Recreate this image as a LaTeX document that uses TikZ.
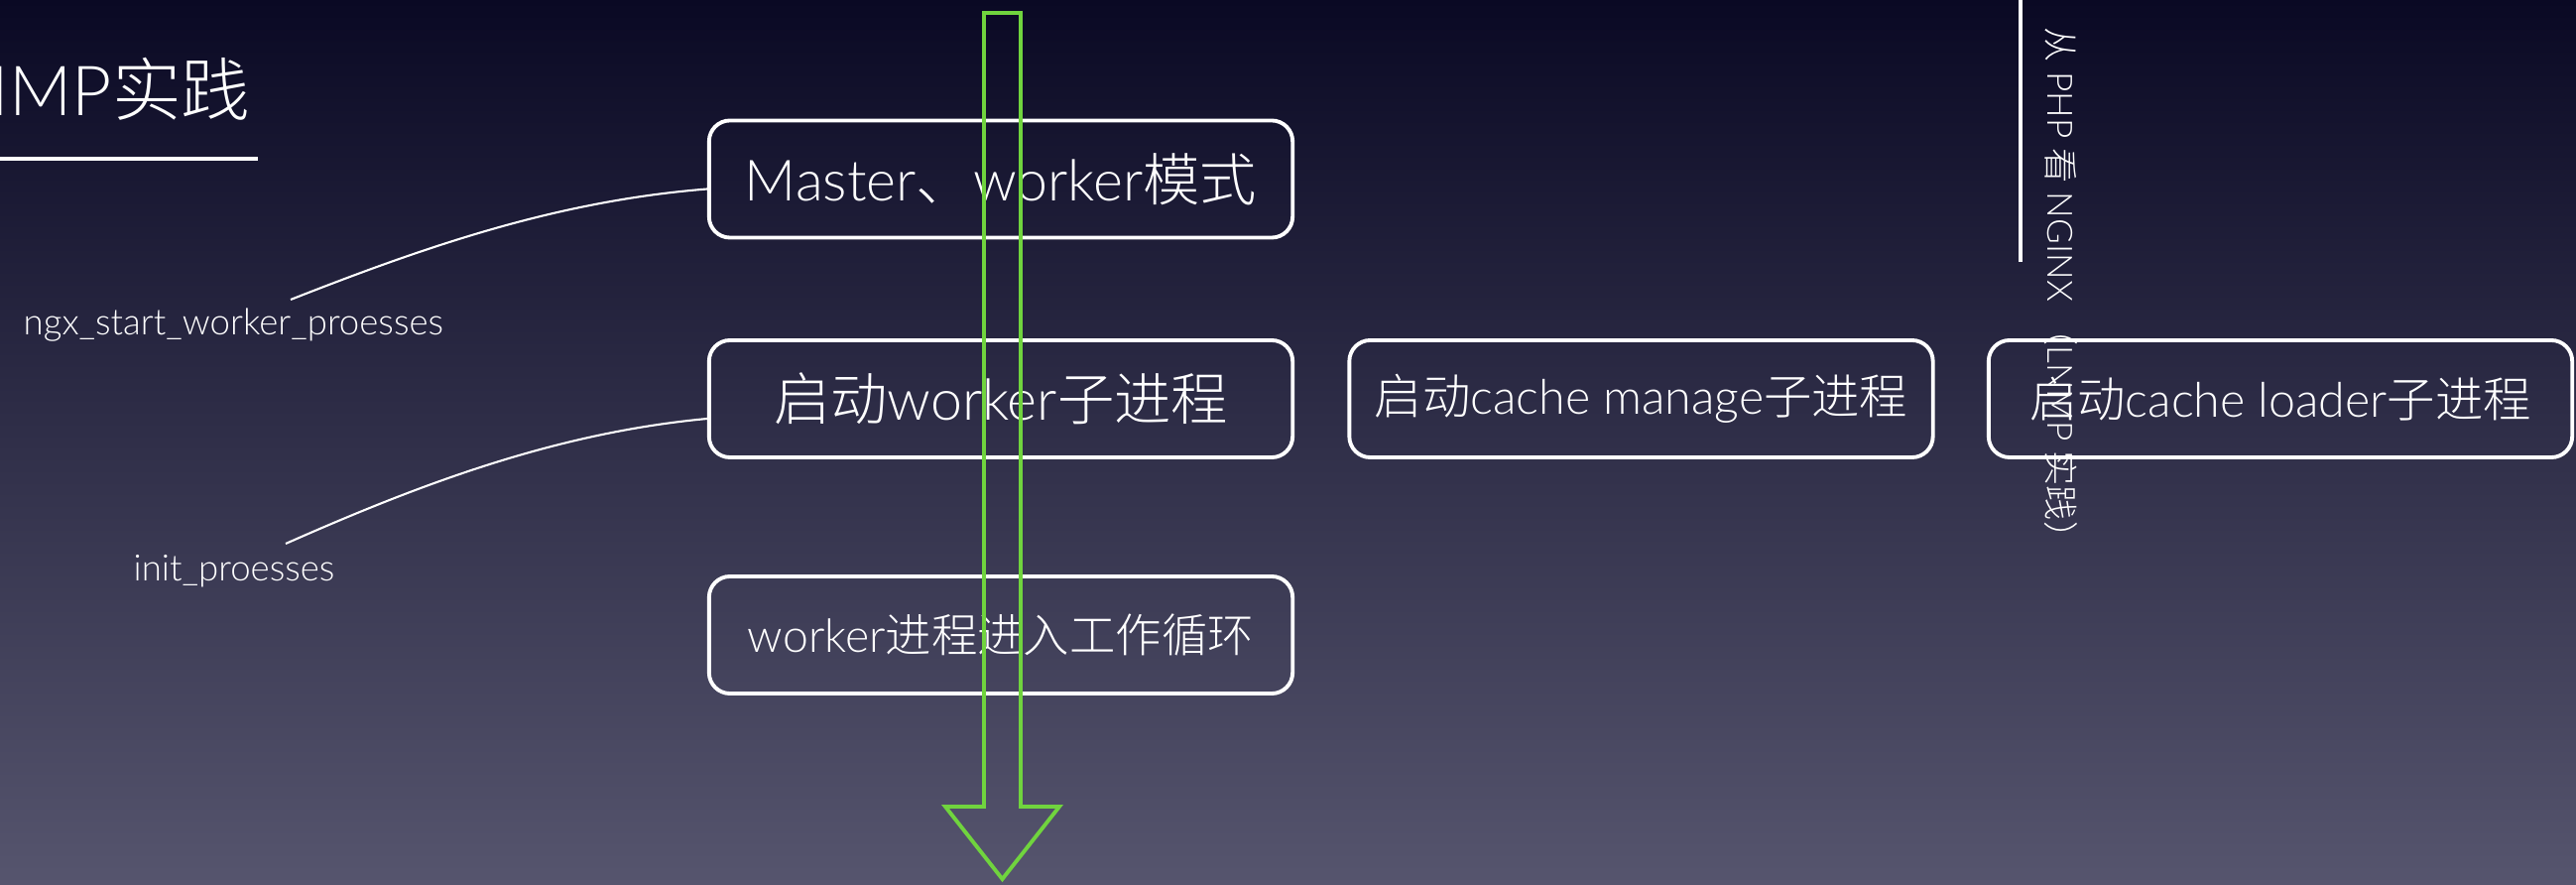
\documentclass[tikz,border=0pt]{standalone}
\usepackage{fontspec}
\setmainfont{Lato Light}
\newfontfamily\cjk{Noto Sans CJK SC Light}
\definecolor{bgtop}{RGB}{10,9,36}
\definecolor{bgbot}{RGB}{86,85,110}
\definecolor{flowgreen}{RGB}{112,212,62}
\tikzset{
  stepbox/.style={draw=white, line width=1.1pt, rounded corners=6pt,
    minimum width=5.88cm, minimum height=1.18cm, inner sep=0pt, text=white},
  bigtext/.style={font=\fontsize{16.3}{18}\selectfont},
  midtext/.style={font=\fontsize{13.2}{15}\selectfont},
  fnlabel/.style={text=white, inner sep=0pt, anchor=base west, font=\fontsize{10.4}{12}\selectfont},
  callout/.style={draw=white, line width=0.6pt},
}
\begin{document}
\begin{tikzpicture}[x=0.01cm,y=-0.01cm]
	\useasboundingbox (0,0) rectangle (2597,892);
	\clip (0,0) rectangle (2597,892);
	\shade[top color=bgtop, bottom color=bgbot] (0,0) rectangle (2597,892);

	% title and side bar
	\node	(title) at (253,117) [anchor=base east, inner sep=0pt, text=white, font=\fontsize{19.8}{21}\selectfont] {LNMP{\cjk 实践}};
	\draw[white, line width=1.4pt] (0,160) -- (260,160);
	\draw[white, line width=1pt] (2037,0) -- (2037,264);
	\node	(side) at (2078,294) [rotate=-90, text=white, inner sep=0pt, font=\fontsize{10}{11}\selectfont] {{\cjk 从} PHP {\cjk 看} NGINX {\cjk （}LNMP {\cjk 实践）}};

	% process boxes
	\node	(master) at (1009,180.5) [stepbox, bigtext] {Master{\cjk 、}worker{\cjk 模式}};
	\node	(spawn) at (1009,402) [stepbox, bigtext] {{\cjk 启动}worker{\cjk 子进程}};
	\node	(loop) at (1009,640) [stepbox, midtext] {worker{\cjk 进程进入工作循环}};
	\node	(cachemgr) at (1654.5,402) [stepbox, font=\fontsize{13.75}{15}\selectfont] {{\cjk 启动}cache manage{\cjk 子进程}};
	\node	(cacheldr) at (2299,402) [stepbox, font=\fontsize{13.75}{15}\selectfont] {{\cjk 启动}cache loader{\cjk 子进程}};

	% function names
	\node	(ngx) at (23,338) [fnlabel] {ngx\_start\_worker\_proesses};
	\node	(initp) at (134,586) [fnlabel] {init\_proesses};
	\coordinate (ngxtip) at (293,302);
	\coordinate (initptip) at (288,548);

	\draw[callout] (ngxtip) .. controls +(140,-55) and +(-150,12) .. ([yshift=-0.1cm]master.west);
	\draw[callout] (initptip) .. controls +(140,-62) and +(-150,14) .. ([yshift=-0.2cm]spawn.west);

	% flow arrow
	\draw[flowgreen, line width=1.1pt, line join=miter]
		(992,13) -- (992,813) -- (953,813) -- (1010.5,886) -- (1068,813) -- (1029,813) -- (1029,13) -- cycle;
\end{tikzpicture}
\end{document}
